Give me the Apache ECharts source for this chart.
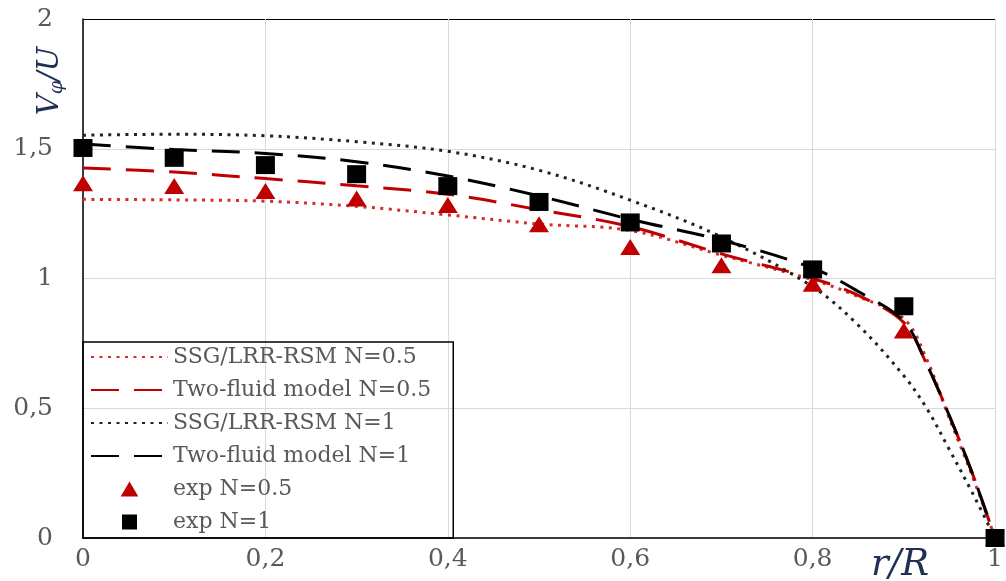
<!DOCTYPE html>
<html>
<head>
<meta charset="utf-8">
<script src="https://cdn.jsdelivr.net/npm/echarts@6/dist/echarts.min.js"></script>
<style>html,body{margin:0;padding:0;background:#fff;}#c{width:1006px;height:581px;}</style>
</head>
<body>
<div id="c"></div>
<script>
// ---- data ----
const curveR = [0, 0.1, 0.2, 0.3, 0.4, 0.5, 0.6, 0.7, 0.8, 0.85, 0.9, 0.925, 0.95, 0.975, 1];
const ssgN05 =      [1.305, 1.303, 1.298, 1.278, 1.245, 1.21, 1.185, 1.09, 0.995, 0.93, 0.845, 0.69, 0.46, 0.24, 0];
const twoFluidN05 = [1.426, 1.41, 1.385, 1.357, 1.325, 1.265, 1.2, 1.095, 1.0, 0.935, 0.83, 0.67, 0.47, 0.25, 0];
const ssgN1 =       [1.552, 1.556, 1.55, 1.527, 1.49, 1.417, 1.302, 1.16, 0.968, 0.82, 0.625, 0.5, 0.34, 0.175, 0];
const twoFluidN1 =  [1.518, 1.497, 1.482, 1.45, 1.395, 1.318, 1.228, 1.148, 1.04, 0.95, 0.835, 0.67, 0.47, 0.25, 0];
const expR = [0, 0.1, 0.2, 0.3, 0.4, 0.5, 0.6, 0.7, 0.8, 0.9, 1];
const expN05 = [1.367, 1.356, 1.337, 1.308, 1.283, 1.209, 1.121, 1.051, 0.98, 0.80, 0];
const expN1 =  [1.503, 1.465, 1.437, 1.402, 1.356, 1.295, 1.216, 1.135, 1.035, 0.893, 0];
const seriesNames = ['SSG/LRR-RSM N=0.5', 'Two-fluid model N=0.5', 'SSG/LRR-RSM N=1', 'Two-fluid model N=1', 'exp N=0.5', 'exp N=1'];
const xTicks = [0, 0.2, 0.4, 0.6, 0.8, 1];
const yTicks = [0, 0.5, 1, 1.5, 2];

const pairs = (xs, ys) => xs.map((x, i) => [x, ys[i]]);
const fmt = v => String(+(+v).toFixed(1)).replace('.', ',');
const serif = 'DejaVu Serif';
const RED = '#c00000';
const NOSYM = {color: 'rgba(0,0,0,0)', borderColor: 'rgba(0,0,0,0)', borderWidth: 0};

const chart = echarts.init(document.getElementById('c'), null, {renderer: 'canvas'});
const lineBase = (name, ys, color, dash, width) => ({
  name, type: 'line', data: pairs(curveR, ys), smooth: 0.35, symbol: 'none', showSymbol: false,
  lineStyle: {color, width, type: dash, cap: 'butt'}, itemStyle: {color}, z: 2, animation: false
});
chart.setOption({
  animation: false,
  backgroundColor: '#fff',
  grid: {left: 83, right: 1, top: 19, bottom: 43},
  xAxis: {
    type: 'value', min: xTicks[0], max: xTicks[xTicks.length - 1], interval: 0.2,
    axisLine: {lineStyle: {color: '#000', width: 1.5}},
    axisTick: {show: false},
    splitLine: {show: true, lineStyle: {color: '#d9d9d9', width: 1}},
    axisLabel: {formatter: fmt, fontFamily: serif, fontSize: 25, color: '#595959', margin: 9}
  },
  yAxis: {
    type: 'value', min: yTicks[0], max: yTicks[yTicks.length - 1], interval: 0.5,
    axisLine: {show: true, lineStyle: {color: '#000', width: 1.5}},
    axisTick: {show: false},
    splitLine: {show: true, lineStyle: {color: ['#d9d9d9', '#d9d9d9', '#d9d9d9', '#d9d9d9', '#000'], width: 1}},
    axisLabel: {formatter: fmt, fontFamily: serif, fontSize: 25, color: '#595959', margin: 30}
  },
  legend: {
    orient: 'vertical', left: 83, top: 342,
    padding: [4, 22, 5, 7], itemGap: 11, itemWidth: 77, itemHeight: 15,
    borderColor: '#000', borderWidth: 1.5, backgroundColor: 'transparent',
    textStyle: {fontFamily: serif, fontSize: 22, color: '#595959'},
    data: [
      {name: seriesNames[0], itemStyle: NOSYM}, {name: seriesNames[1], itemStyle: NOSYM},
      {name: seriesNames[2], itemStyle: NOSYM}, {name: seriesNames[3], itemStyle: NOSYM},
      {name: seriesNames[4], icon: 'path://M0,17L10,0L20,17Z'},
      {name: seriesNames[5], icon: 'path://M0,0L13,0L13,13L0,13Z'}
    ]
  },
  series: [
    lineBase(seriesNames[0], ssgN05, '#d62a2a', [3, 5.5], 3),
    lineBase(seriesNames[1], twoFluidN05, RED, [28, 15], 3),
    lineBase(seriesNames[2], ssgN1, '#222', [3, 5.5], 3),
    lineBase(seriesNames[3], twoFluidN1, '#000', [28, 15], 3),
    {name: seriesNames[4], type: 'scatter', data: pairs(expR, expN05), symbol: 'triangle', symbolSize: [20, 16],
     symbolKeepAspect: true, itemStyle: {color: RED, opacity: 1}, z: 3},
    {name: seriesNames[5], type: 'scatter', data: pairs(expR, expN1), symbol: 'rect', symbolSize: [19, 18],
     symbolKeepAspect: true, itemStyle: {color: '#000', opacity: 1}, z: 4}
  ],
  graphic: [
    {type: 'text', x: 50, y: 81, rotation: Math.PI / 2, z: 10,
     style: {text: '{v|V}{s|φ}{v|/U}', align: 'center', verticalAlign: 'middle', fill: '#1f2f55',
       rich: {
         v: {fontFamily: serif, fontStyle: 'italic', fontSize: 29, lineHeight: 34, fill: '#1f2f55', verticalAlign: 'middle'},
         s: {fontFamily: serif, fontStyle: 'italic', fontSize: 19, lineHeight: 20, fill: '#1f2f55', verticalAlign: 'bottom'}
       }}},
    {type: 'text', x: 871, y: 565, z: 10,
     style: {text: 'r/R', fontFamily: serif, fontStyle: 'italic', fontSize: 37, fill: '#1f2f55', align: 'left', verticalAlign: 'middle'}}
  ]
});
</script>
</body>
</html>
